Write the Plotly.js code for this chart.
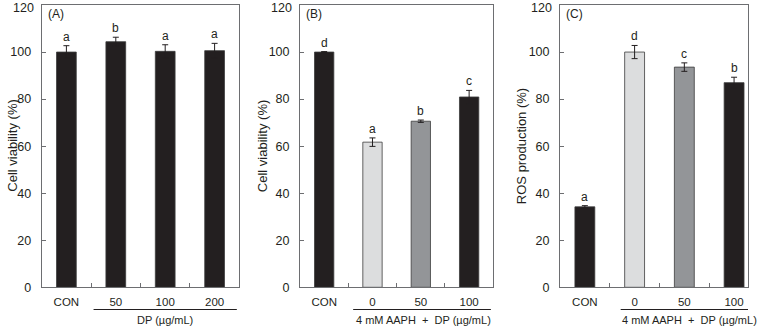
<!DOCTYPE html>
<html>
<head>
<meta charset="utf-8">
<script src="https://cdn.plot.ly/plotly-3.0.1.min.js"></script>
<style>html,body{margin:0;padding:0;background:#fff;}#chart{width:760px;height:326px;}</style>
</head>
<body>
<div id="chart"></div>
<script>
// ---- data ----
const catsA = ['CON', '50', '100', '200'];
const valsA = [100.0, 104.4, 100.3, 100.6];
const errA  = [2.7, 1.9, 2.8, 3.1];
const letA  = ['a', 'b', 'a', 'a'];

const catsB = ['CON', '0', '50', '100'];
const valsB = [100.0, 61.7, 70.6, 80.9];
const errB  = [0.2, 1.8, 0.5, 2.8];
const letB  = ['d', 'a', 'b', 'c'];

const catsC = ['CON', '0', '50', '100'];
const valsC = [34.2, 100.0, 93.6, 87.0];
const errC  = [0.5, 2.8, 1.8, 2.3];
const letC  = ['a', 'd', 'c', 'b'];

const yTickVals = [0, 20, 40, 60, 80, 100];
const yTopTick = 120;

const panelLabels = ['(A)', '(B)', '(C)'];
const yTitles = ['Cell viability (%)', 'Cell viability (%)', 'ROS production (%)'];
const groupLabels = ['DP (µg/mL)', '4 mM AAPH\u00a0 +\u00a0 DP (µg/mL)', '4 mM AAPH\u00a0 +\u00a0 DP (µg/mL)'];

// ---- styling ----
const BLACK = '#231f20', LIGHT = '#dcddde', MID = '#939598';
const colorsA = [BLACK, BLACK, BLACK, BLACK];
const colorsB = [BLACK, LIGHT, MID, BLACK];
const colorsC = [BLACK, LIGHT, MID, BLACK];
const FONT = 'Liberation Sans, Arial, sans-serif';
const TXT = '#231f20';

const panels = [
  {cats: catsA, vals: valsA, err: errA, let: letA, colors: colorsA, dom: [41.7, 239.3], range: [-0.5, 3.5], line: [0.55, 3.45], lblX: 2.0, titleX: 12.5},
  {cats: catsB, vals: valsB, err: errB, let: letB, colors: colorsB, dom: [300, 493.3], range: [-0.5, 3.5], line: [0.6, 3.45], lblX: 2.05, titleX: 262},
  {cats: catsC, vals: valsC, err: errC, let: letC, colors: colorsC, dom: [560, 748], range: [-0.5, 3.28], line: [0.72, 3.28], lblX: 2.1, titleX: 521}
];

const W = 760, H = 326;
const yTop = 5, yBot = 287.3;
const yDom = [(H - yBot) / H, (H - yTop) / H];

const data = [];
const layout = {
  width: W, height: H, autosize: false,
  margin: {l: 0, r: 0, t: 0, b: 0, pad: 0},
  paper_bgcolor: '#fff', plot_bgcolor: '#fff',
  showlegend: false,
  font: {family: FONT, size: 12, color: TXT},
  annotations: [], shapes: [],
  bargap: 0
};

panels.forEach((p, i) => {
  const n = i === 0 ? '' : String(i + 1);
  const xa = 'x' + n, ya = 'y' + n;
  data.push({
    type: 'bar', x: p.cats, y: p.vals, xaxis: xa, yaxis: ya,
    width: 0.4,
    marker: {color: p.colors, line: {color: '#3c3c3c', width: 0.8}},
    error_y: {type: 'data', array: p.err, visible: true, color: '#231f20', thickness: 1, width: 3},
    hoverinfo: 'skip'
  });
  layout['xaxis' + n] = {
    domain: [p.dom[0] / W, p.dom[1] / W], anchor: ya, type: 'category',
    range: p.range, fixedrange: true,
    showline: true, mirror: true, linecolor: '#6d6e71', linewidth: 1,
    ticks: 'inside', tickson: 'boundaries', ticklen: 4, tickcolor: '#6d6e71', tickwidth: 1,
    showgrid: false, zeroline: false,
    tickfont: {family: FONT, size: 11.5, color: TXT}, ticklabelstandoff: 4
  };
  layout['yaxis' + n] = {
    domain: yDom, anchor: xa, range: [0, 120], tickmode: 'array', tickvals: yTickVals, fixedrange: true,
    showline: true, mirror: true, linecolor: '#6d6e71', linewidth: 1,
    ticks: 'inside', ticklen: 4, tickcolor: '#6d6e71', tickwidth: 1,
    showgrid: false, zeroline: false,
    tickfont: {family: FONT, size: 12.5, color: TXT}, ticklabelstandoff: 7
  };
  // top tick label (kept inside the page)
  layout.annotations.push({
    xref: xa + ' domain', yref: ya, x: 0, y: yTopTick, text: String(yTopTick),
    xanchor: 'right', yanchor: 'middle', xshift: -6, yshift: -3, showarrow: false,
    font: {family: FONT, size: 12.5, color: TXT}
  });
  // significance letters
  p.cats.forEach((c, j) => {
    layout.annotations.push({
      xref: xa, yref: ya, x: j, y: p.vals[j] + p.err[j], text: p.let[j],
      showarrow: false, yanchor: 'bottom', yshift: 0,
      font: {family: FONT, size: 12, color: TXT}
    });
  });
  // panel label
  layout.annotations.push({
    xref: xa + ' domain', yref: ya + ' domain', x: 0.02, y: (yBot - 14.3) / (yBot - yTop),
    xanchor: 'left', yanchor: 'middle', text: panelLabels[i], showarrow: false,
    font: {family: FONT, size: 12, color: TXT}
  });
  // y title
  layout.annotations.push({
    xref: 'paper', yref: 'paper', x: p.titleX / W, y: (H - (yTop + yBot) / 2) / H,
    xanchor: 'center', yanchor: 'middle', textangle: -90, text: yTitles[i], showarrow: false,
    font: {family: FONT, size: 13, color: TXT}
  });
  // group underline
  layout.shapes.push({
    type: 'line', xref: xa, yref: 'paper', x0: p.line[0], x1: p.line[1],
    y0: (H - 309.5) / H, y1: (H - 309.5) / H, line: {color: '#231f20', width: 1}
  });
  // group label
  layout.annotations.push({
    xref: xa, yref: 'paper', x: p.lblX, y: (H - 320) / H,
    xanchor: 'center', yanchor: 'middle', text: groupLabels[i], showarrow: false,
    font: {family: FONT, size: 11, color: TXT}
  });
});

Plotly.newPlot('chart', data, layout, {staticPlot: true, displayModeBar: false});
</script>
</body>
</html>
